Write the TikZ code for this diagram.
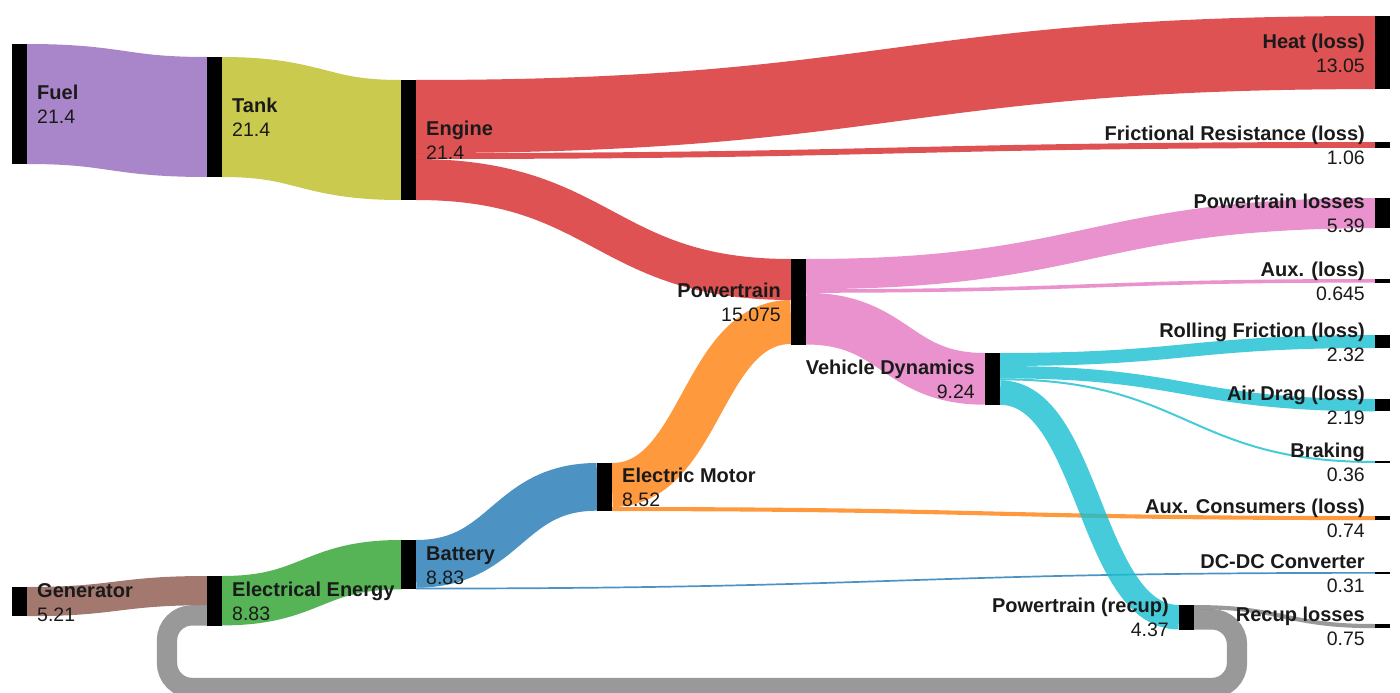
\documentclass[tikz,border=0pt]{standalone}
\usepackage{fontspec}
\setmainfont{Liberation Sans}
\usetikzlibrary{calc}

% category palette, drawn at 80% opacity
\definecolor{cfuel}{HTML}{9467BD}
\definecolor{ctank}{HTML}{BCBD22}
\definecolor{cengine}{HTML}{D62728}
\definecolor{cpower}{HTML}{E377C2}
\definecolor{cdyn}{HTML}{17BECF}
\definecolor{cmotor}{HTML}{FF7F0E}
\definecolor{cbatt}{HTML}{1F77B4}
\definecolor{celec}{HTML}{2CA02C}
\definecolor{cgen}{HTML}{8C564B}
\definecolor{crecup}{HTML}{7F7F7F}
\definecolor{labeltext}{HTML}{1A1A1A}

\tikzset{
  % bars are placed first (so bands can attach to them) and filled after the bands
  bar/.style={rectangle, draw=none, minimum width=15pt,
              inner sep=0pt, outer sep=0pt, anchor=north},
  flowline/.style={draw opacity=0.8, line cap=butt},
  lname/.style={font=\fontsize{20}{24}\selectfont\bfseries, text=labeltext, inner sep=0pt},
  lval/.style={font=\fontsize{19.5}{24}\selectfont, text=labeltext, inner sep=0pt},
}

% band: colour, width, source node, offset from source top, target node, offset from target top
\newcommand\skflow[6]{%
  \draw[flowline, draw=#1, line width=#2pt]
    let \p1=($(#3.north east)+(0,{#4+#2/2})$),
        \p2=($(#5.north west)+(0,{#6+#2/2})$),
        \n1={(\x1+\x2)/2}
    in (\p1) .. controls (\n1,\y1) and (\n1,\y2) .. (\p2);}

% labels to the right / left of a bar
\newcommand\sklabR[3]{%
  \node[lname, anchor=base west] (#1-name) at ($(#1.east)+(10,-4.5)$) {#2};
  \node[lval, anchor=base west] (#1-value) at ($(#1.east)+(10,19.5)$) {#3};}
\newcommand\sklabL[3]{%
  \node[lname, anchor=base east] (#1-name) at ($(#1.west)+(-10,-4.5)$) {#2};
  \node[lval, anchor=base east] (#1-value) at ($(#1.west)+(-10,19.5)$) {#3};}

\begin{document}
\begin{tikzpicture}[x=1pt, y=-1pt]
\useasboundingbox (0,0) rectangle (1400,693);
\clip (0,0) rectangle (1400,693);

% ---- bars (column centres 19.5, 214.5, 408.5, 604.5, 798.5, 992.5, 1186.5, 1382.5)
\node[bar, minimum height=120pt] (fuel) at (19.5,44) {};
\node[bar, minimum height=29.2pt] (generator) at (19.5,587) {};
\node[bar, minimum height=120pt] (tank) at (214.5,57) {};
\node[bar, minimum height=49.5pt] (elecenergy) at (214.5,576) {};
\node[bar, minimum height=120pt] (engine) at (408.5,80) {};
\node[bar, minimum height=49.4pt] (battery) at (408.5,540) {};
\node[bar, minimum height=48.1pt] (elecmotor) at (604.5,463) {};
\node[bar, minimum height=85.5pt] (powertrain) at (798.5,259) {};
\node[bar, minimum height=51.8pt] (vehdyn) at (992.5,353) {};
\node[bar, minimum height=24.5pt] (ptrecup) at (1186.5,605) {};
\node[bar, minimum height=73.1pt] (heat) at (1382.5,16) {};
\node[bar, minimum height=5.9pt] (friction) at (1382.5,142) {};
\node[bar, minimum height=30.2pt] (ptloss) at (1382.5,198) {};
\node[bar, minimum height=3.6pt] (auxloss) at (1382.5,279) {};
\node[bar, minimum height=13pt] (rolling) at (1382.5,335) {};
\node[bar, minimum height=12.3pt] (airdrag) at (1382.5,399) {};
\node[bar, minimum height=2pt] (braking) at (1382.5,461) {};
\node[bar, minimum height=4.1pt] (auxcons) at (1382.5,516) {};
\node[bar, minimum height=1.7pt] (dcdc) at (1382.5,572) {};
\node[bar, minimum height=4.2pt] (recuploss) at (1382.5,624) {};

% ---- bands
\skflow{cfuel}{120}{fuel}{0}{tank}{0}
\skflow{ctank}{120}{tank}{0}{engine}{0}
\skflow{cengine}{73.1}{engine}{0}{heat}{0}
\skflow{cengine}{5.9}{engine}{73.1}{friction}{0}
\skflow{cengine}{41}{engine}{79}{powertrain}{0}
\skflow{cmotor}{44}{elecmotor}{0}{powertrain}{41}
\skflow{cmotor}{4.1}{elecmotor}{44}{auxcons}{0}
\skflow{cpower}{30.2}{powertrain}{0}{ptloss}{0}
\skflow{cpower}{3.6}{powertrain}{30.2}{auxloss}{0}
\skflow{cpower}{51.7}{powertrain}{33.8}{vehdyn}{0}
\skflow{cdyn}{13}{vehdyn}{0}{rolling}{0}
\skflow{cdyn}{12.3}{vehdyn}{13}{airdrag}{0}
\skflow{cdyn}{2}{vehdyn}{25.3}{braking}{0}
\skflow{cbatt}{47.7}{battery}{0}{elecmotor}{0}
\skflow{cbatt}{1.7}{battery}{47.7}{dcdc}{0}
\skflow{celec}{49.4}{elecenergy}{0}{battery}{0}
\skflow{cgen}{29.2}{generator}{0}{elecenergy}{0}
\skflow{crecup}{4.2}{ptrecup}{0}{recuploss}{0}
\skflow{cdyn}{24.5}{vehdyn}{27.3}{ptrecup}{0}
% recuperated energy returned to the electrical bus
\draw[flowline, draw=crecup, line width=20.3pt, rounded corners=25pt]
  let \p1=($(ptrecup.north east)+(0,{4.2+20.3/2})$),
      \p2=($(elecenergy.north west)+(0,{29.2+20.3/2})$)
  in (\p1) -- (1237,\y1) -- (1237,688) -- (167,688) -- (167,\y2) -- (\p2);

% ---- bar fills on top of the bands
\foreach \b in {fuel, generator, tank, elecenergy, engine, battery, elecmotor,
  powertrain, vehdyn, ptrecup, heat, friction, ptloss, auxloss, rolling,
  airdrag, braking, auxcons, dcdc, recuploss}
  \fill[black] (\b.north west) rectangle (\b.south east);

% ---- labels
\sklabR{fuel}{Fuel}{21.4}
\sklabR{tank}{Tank}{21.4}
\sklabR{engine}{Engine}{21.4}
\sklabR{generator}{Generator}{5.21}
\sklabR{elecenergy}{Electrical Energy}{8.83}
\sklabR{battery}{Battery}{8.83}
\sklabR{elecmotor}{Electric Motor}{8.52}
\sklabL{powertrain}{Powertrain}{15.075}
\sklabL{vehdyn}{Vehicle Dynamics}{9.24}
\sklabL{ptrecup}{Powertrain (recup)}{4.37}
\sklabL{heat}{Heat (loss)}{13.05}
\sklabL{friction}{Frictional Resistance (loss)}{1.06}
\sklabL{ptloss}{Powertrain losses}{5.39}
\sklabL{auxloss}{Aux. (loss)}{0.645}
\sklabL{rolling}{Rolling Friction (loss)}{2.32}
\sklabL{airdrag}{Air Drag (loss)}{2.19}
\sklabL{braking}{Braking}{0.36}
\sklabL{auxcons}{Aux. Consumers (loss)}{0.74}
\sklabL{dcdc}{DC-DC Converter}{0.31}
\sklabL{recuploss}{Recup losses}{0.75}
\end{tikzpicture}
\end{document}
